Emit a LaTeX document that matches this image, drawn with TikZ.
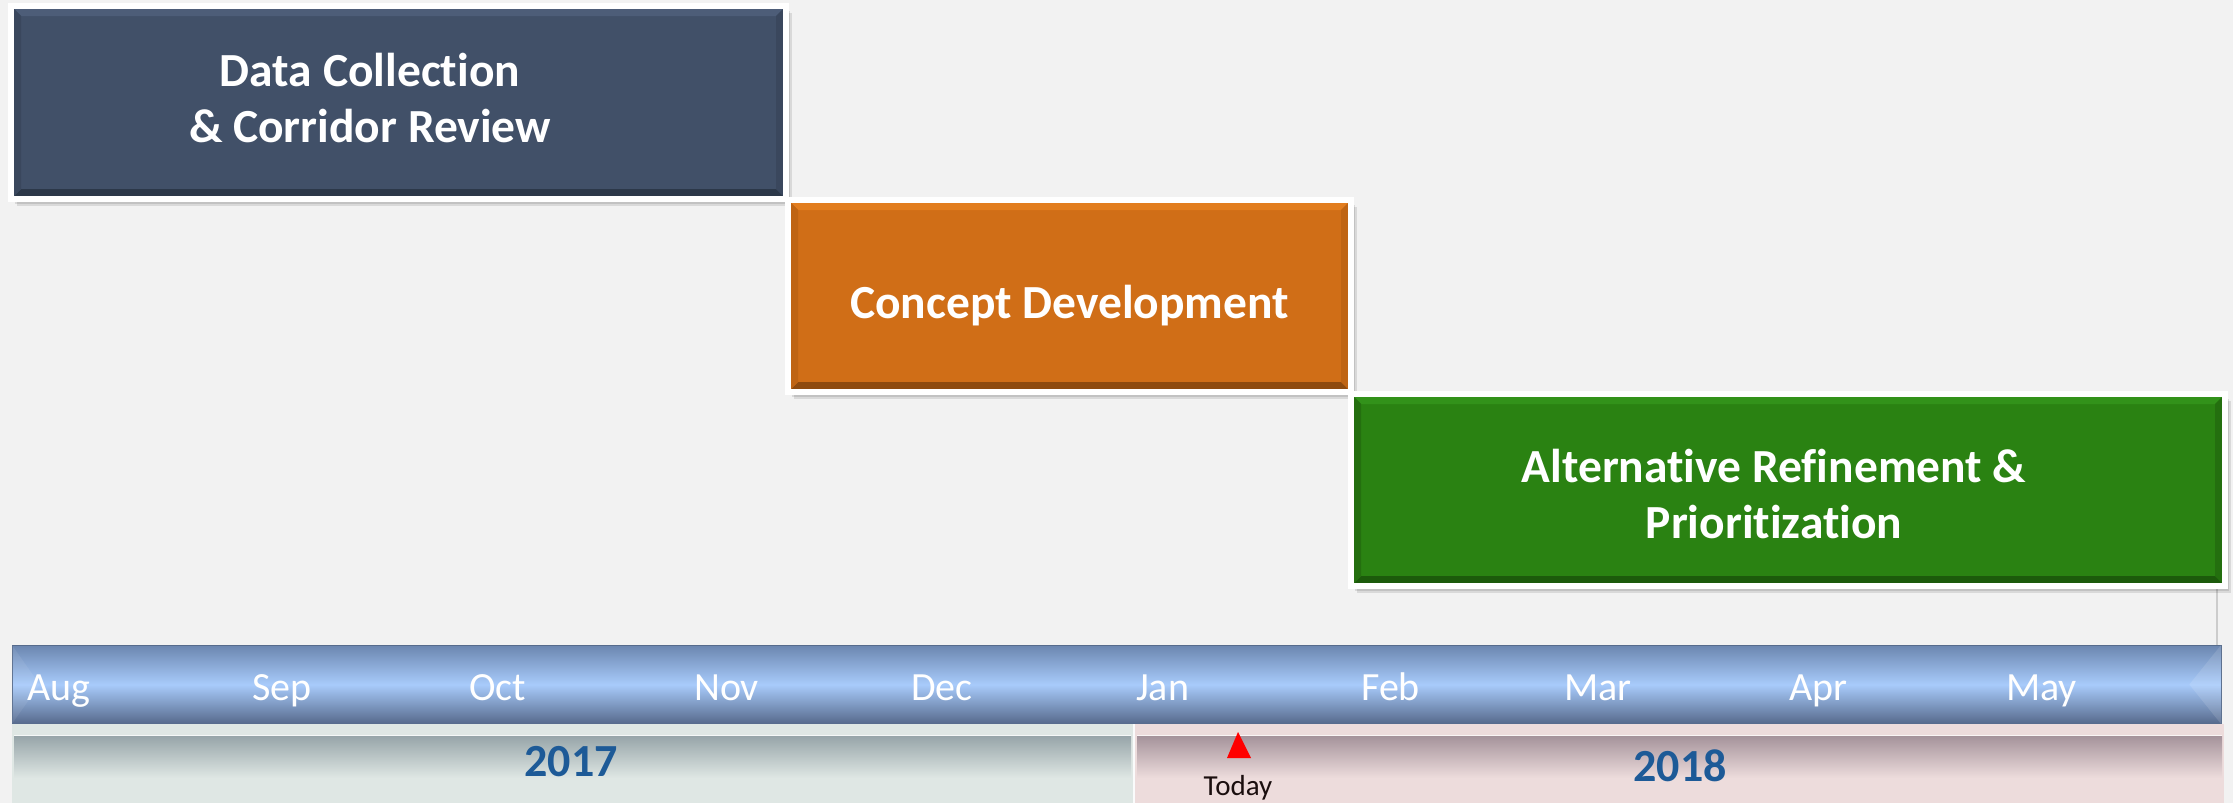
\documentclass[tikz,border=0pt]{standalone}
\usepackage{fontspec}
\setmainfont{Carlito}[Ligatures={NoCommon}]
\usetikzlibrary{shadows}
\definecolor{bg}{HTML}{F2F2F2}
\definecolor{cA}{HTML}{415068}
\definecolor{cAtop}{HTML}{4D5D78}
\definecolor{cAbot}{HTML}{2C3849}
\definecolor{cAside}{HTML}{3A475D}
\definecolor{cB}{HTML}{D06E17}
\definecolor{cBtop}{HTML}{E27D1E}
\definecolor{cBbot}{HTML}{8E4A0E}
\definecolor{cBside}{HTML}{BF6413}
\definecolor{cC}{HTML}{2A8212}
\definecolor{cCtop}{HTML}{32921A}
\definecolor{cCbot}{HTML}{1C5A0B}
\definecolor{cCside}{HTML}{246F0F}
\definecolor{barTop}{HTML}{6B86AF}
\definecolor{barMid}{HTML}{A8CBFB}
\definecolor{barBot}{HTML}{56698B}
\definecolor{yrA}{HTML}{DFE7E4}
\definecolor{yrAdark}{HTML}{97A5A9}
\definecolor{yrB}{HTML}{EDDCDC}
\definecolor{yrBdark}{HTML}{A5939B}
\definecolor{yearblue}{HTML}{1D5A97}
\definecolor{todaytxt}{HTML}{1A0E0E}
\newcommand\mybevel[3]{%
  \coordinate (pNW) at ([shift={(3,3)}]path picture bounding box.north west);
  \coordinate (pNE) at ([shift={(-3,3)}]path picture bounding box.north east);
  \coordinate (pSW) at ([shift={(3,-3)}]path picture bounding box.south west);
  \coordinate (pSE) at ([shift={(-3,-3)}]path picture bounding box.south east);
  \fill[#1] (pNW) -- (pNE) -- ([shift={(-7,7)}]pNE) -- ([shift={(7,7)}]pNW) -- cycle;
  \fill[#2] (pSW) -- (pSE) -- ([shift={(-7,-7)}]pSE) -- ([shift={(7,-7)}]pSW) -- cycle;
  \fill[#3] (pNW) -- ([shift={(7,7)}]pNW) -- ([shift={(7,-7)}]pSW) -- (pSW) -- cycle;
  \fill[#3] (pNE) -- ([shift={(-7,7)}]pNE) -- ([shift={(-7,-7)}]pSE) -- (pSE) -- cycle;
}
\begin{document}
\begin{tikzpicture}[x=1pt,y=-1pt,
  phase/.style={rectangle, inner sep=0pt, draw=white, line width=6pt,
    drop shadow={shadow xshift=6pt, shadow yshift=-7pt, opacity=0.10, fill=black},
    drop shadow={shadow xshift=4pt, shadow yshift=-5pt, opacity=0.10, fill=black}},
  phasetext/.style={text=white, align=center, font=\fontsize{47.5}{56}\selectfont\bfseries},
  monthlbl/.style={anchor=base west, inner sep=0pt, text=white, font=\fontsize{40}{48}\selectfont},
  yearlbl/.style={anchor=base, inner sep=0pt, text=yearblue, font=\fontsize{46}{55}\selectfont\bfseries},
]
\useasboundingbox (0,0) rectangle (2233,803);
\fill[bg] (0,0) rectangle (2233,803);

% timeline bar
\node[rectangle, inner sep=0pt, minimum width=2209pt, minimum height=79pt,
  top color=barTop, bottom color=barBot, middle color=barMid,
  draw=barTop!80!black, line width=0.6pt] (bar) at (1116.5,684.5) {};
\fill[white, opacity=0.07] (bar.north west) -- ([shift={(28,0)}]bar.west) -- (bar.south west) -- cycle;
\fill[white, opacity=0.12] (bar.north east) -- ([shift={(-32,0)}]bar.east) -- (bar.south east) -- cycle;

% year bands
\node[rectangle, inner sep=0pt, fill=yrA, minimum width=1121pt, minimum height=79pt] (band17) at (572.5,763.5) {};
\node[rectangle, inner sep=0pt, fill=yrB, minimum width=1089pt, minimum height=79pt] (band18) at (1679.5,763.5) {};
\shade[top color=yrAdark, bottom color=yrA] (14,736) rectangle (1131,778);
\shade[top color=yrBdark, bottom color=yrB] (1137,736) rectangle (2222,778);
\draw[white!70!yrA, line width=1pt] (14,735.5) -- (1131,735.5);
\draw[white!70!yrB, line width=1pt] (1137,735.5) -- (2222,735.5);
\draw[white!85!yrA, line width=2pt] (1134,724) -- (1134,803);

% month labels
\node[monthlbl] (m1) at (27,700) {Aug};
\node[monthlbl] (m2) at (252,700) {Sep};
\node[monthlbl] (m3) at (469,700) {Oct};
\node[monthlbl] (m4) at (694,700) {Nov};
\node[monthlbl] (m5) at (911,700) {Dec};
\node[monthlbl] (m6) at (1136,700) {Jan};
\node[monthlbl] (m7) at (1361,700) {Feb};
\node[monthlbl] (m8) at (1564,700) {Mar};
\node[monthlbl] (m9) at (1789,700) {Apr};
\node[monthlbl] (m10) at (2006,700) {May};

% years
\node[yearlbl] (y17) at (571,776) {2017};
\node[yearlbl] (y18) at (1680,781) {2018};

% today marker
\fill[red] (1238,732) -- (1251,758) -- (1227,758) -- cycle;
\node[anchor=base, inner sep=0pt, text=todaytxt, font=\fontsize{29}{35}\selectfont] (today) at (1238,795) {Today};

% connector line from last phase to bar
\coordinate (vl) at (2217,645);

% phase boxes
\node[phase, fill=cA, minimum width=775pt, minimum height=193pt,
  path picture={\mybevel{cAtop}{cAbot}{cAside}}] (b1) at (398.5,102.5) {};
\node[phase, fill=cB, minimum width=563pt, minimum height=192pt,
  path picture={\mybevel{cBtop}{cBbot}{cBside}}] (b2) at (1069.5,296) {};
\draw[black!20, line width=1.5pt] (vl |- 0,589) -- (vl |- bar.north);
\node[phase, fill=cC, minimum width=874pt, minimum height=192pt,
  path picture={\mybevel{cCtop}{cCbot}{cCside}}] (b3) at (1788,490) {};

\node[phasetext] (t1) at (370,98) {Data Collection\\\& Corridor Review};
\node[phasetext] (t2) at (1069.5,306) {Concept Development};
\node[phasetext] (t3) at (1774,494) {Alternative Refinement \&\\Prioritization};
\end{tikzpicture}
\end{document}
